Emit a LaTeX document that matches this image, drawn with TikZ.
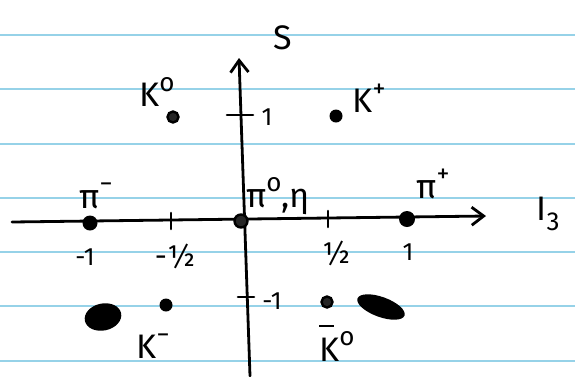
\documentclass[tikz,border=0pt]{standalone}
\usepackage{fontspec}
\setmainfont{Fira Sans}
\usetikzlibrary{arrows.meta,shapes.geometric}
\definecolor{paperline}{RGB}{150,210,232}
\newcommand{\hsup}[1]{\raisebox{0.45em}{\fontsize{26}{28}\selectfont #1}}
\begin{document}
\begin{tikzpicture}[x=1pt,y=-1pt,
  ruled/.style={draw=paperline, line width=1.8pt},
  axisline/.style={line width=2.8pt, line cap=round, -{Straight Barb[length=12pt,width=18pt,line width=2.8pt]}},
  tickmark/.style={line width=2.6pt, line cap=round},
  pt/.style={circle, fill=black, inner sep=0pt, minimum size=#1},
  ringpt/.style={circle, draw=black, line width=2.4pt, fill=black!85, inner sep=0pt, minimum size=#1},
  lbl/.style={font=\fontsize{34}{36}\selectfont, inner sep=0pt},
  numlbl/.style={font=\fontsize{25}{27}\selectfont, inner sep=0pt},
  fraclbl/.style={font=\fontsize{30}{32}\selectfont, inner sep=0pt}]
\useasboundingbox (0,0) rectangle (575,376);
\fill[white] (0,0) rectangle (575,376);
% ruled paper lines
\foreach \yy in {35,89,144,198,252,306,361}
  \draw[ruled] (0,\yy) -- (575,\yy);
% axes
\coordinate (xstart) at (12,222);
\coordinate (xend) at (486,216);
\coordinate (ybot) at (250,376);
\coordinate (ytop) at (239,58);
\draw[axisline] (xstart) -- (xend);
\draw[axisline] (ybot) -- (ytop);
% ticks
\coordinate (tmh) at (171,221);
\coordinate (tph) at (328,219);
\coordinate (tp1) at (241,115);
\coordinate (tm1) at (246,297);
\draw[tickmark] ([yshift=-8]tmh) -- ([yshift=8]tmh);
\draw[tickmark] ([yshift=-8]tph) -- ([yshift=8]tph);
\draw[tickmark] ([xshift=-14]tp1) -- ([xshift=12]tp1);
\draw[tickmark] ([xshift=-8]tm1) -- ([xshift=8]tm1);
% points
\node[pt=15pt] (piminus) at (90,223) {};
\node[pt=16pt] (piplus) at (407,219) {};
\node[ringpt=13pt] (pizero) at (241,221) {};
\node[ringpt=11pt] (kzero) at (173,117) {};
\node[pt=13pt] (kplus) at (336,116) {};
\node[pt=13pt] (kminus) at (166,305) {};
\node[ringpt=11pt] (kbar) at (327,302) {};
% scribbles
\node[fill=black, ellipse, minimum width=37pt, minimum height=27pt, inner sep=0pt, rotate=12] (blobl) at (103,317) {};
\node[fill=black, ellipse, minimum width=50pt, minimum height=20pt, inner sep=0pt, rotate=-20] (blobr) at (381,307) {};
% labels
\node[lbl] (S) at (283,38) {S};
\node[lbl] (I3) at (548,214) {I\raisebox{-0.3em}{\fontsize{26}{28}\selectfont 3}};
\node[lbl] (lk0) at (157,92) {K\hsup{o}};
\node[lbl] (lkp) at (369,98) {K\hsup{+}};
\node[lbl] (lpim) at (96,196) {π\hsup{−}};
\node[lbl, anchor=west] (lpi0) at (246,196) {π\hsup{o},η};
\node[lbl] (lpip) at (433,184) {π\hsup{+}};
\node[lbl] (lkm) at (153,346) {K\hsup{−}};
\node[lbl] (lkb) at (337,343) {\rlap{\raisebox{1.0em}{\rule{15pt}{2.4pt}}}K\hsup{o}};
\node[numlbl] (n1) at (267,117) {1};
\node[numlbl] (nm1) at (272,301) {-1};
\node[numlbl] (nmone) at (85,257) {-1};
\node[fraclbl] (nmhalf) at (175,256) {-½};
\node[fraclbl] (nhalf) at (336,253) {½};
\node[numlbl] (none) at (408,252) {1};
\end{tikzpicture}
\end{document}
